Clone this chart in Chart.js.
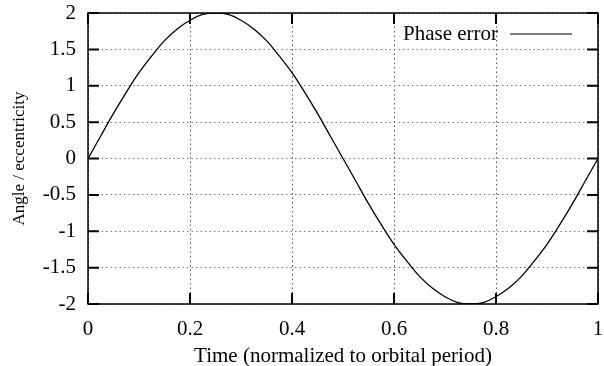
<!DOCTYPE html>
<html>
<head>
<meta charset="utf-8">
<script src="https://cdn.jsdelivr.net/npm/chart.js@4.4.0/dist/chart.umd.min.js"></script>
<style>
  html, body { margin: 0; padding: 0; background: #fff; }
  #wrap { width: 604px; height: 366px; }
</style>
</head>
<body>
<div id="wrap"><canvas id="phaseChart" width="604" height="366"></canvas></div>
<script>
// Data

const timeValues = [0, 0.025, 0.05, 0.075, 0.1, 0.125, 0.15, 0.175, 0.2, 0.225, 0.25,
    0.275, 0.3, 0.325, 0.35, 0.375, 0.4, 0.425, 0.45, 0.475, 0.5,
    0.525, 0.55, 0.575, 0.6, 0.625, 0.65, 0.675, 0.7, 0.725, 0.75,
    0.775, 0.8, 0.825, 0.85, 0.875, 0.9, 0.925, 0.95, 0.975, 1];
const phaseError = [0, 0.31, 0.62, 0.91, 1.18, 1.41, 1.62, 1.78, 1.90, 1.98, 2,
    1.98, 1.90, 1.78, 1.62, 1.41, 1.18, 0.91, 0.62, 0.31, 0,
    -0.31, -0.62, -0.91, -1.18, -1.41, -1.62, -1.78, -1.90, -1.98, -2,
    -1.98, -1.90, -1.78, -1.62, -1.41, -1.18, -0.91, -0.62, -0.31, 0];
const seriesName = 'Phase error';
const xTitle = 'Time (normalized to orbital period)';
const yTitle = 'Angle / eccentricity';

const serif = "'Liberation Serif', 'DejaVu Serif', serif";

// plain gnuplot-like numbers: 2, 1.5, 0.2, 1
function plainLabel(value) {
    return String(Math.round(value * 100) / 100);
}

// Frame with inward tick marks, plus the gnuplot-style legend

const framePlugin = {
    id: 'frame',
    afterDraw(chart) {
        const ctx = chart.ctx;
        const area = chart.chartArea;
        const xs = chart.scales.x;
        const ys = chart.scales.y;
        const tick = 11;
        ctx.save();
        ctx.strokeStyle = '#000';
        ctx.lineWidth = 1.5;
        ctx.strokeRect(area.left, area.top, area.right - area.left, area.bottom - area.top);
        ctx.lineWidth = 2;
        ctx.beginPath();
        xs.ticks.forEach(t => {
            const x = xs.getPixelForValue(t.value);
            ctx.moveTo(x, area.bottom);
            ctx.lineTo(x, area.bottom - tick);
            ctx.moveTo(x, area.top);
            ctx.lineTo(x, area.top + tick);
        });
        ys.ticks.forEach(t => {
            const y = ys.getPixelForValue(t.value);
            ctx.moveTo(area.left, y);
            ctx.lineTo(area.left + tick, y);
            ctx.moveTo(area.right, y);
            ctx.lineTo(area.right - tick, y);
        });
        ctx.stroke();

        // legend: text first, then line sample
        const ly = area.top + 21;
        ctx.fillStyle = '#000';
        ctx.font = '21px ' + serif;
        ctx.textAlign = 'right';
        ctx.textBaseline = 'middle';
        ctx.fillText(seriesName, 498, ly);
        ctx.lineWidth = 1.2;
        ctx.beginPath();
        ctx.moveTo(510, ly);
        ctx.lineTo(572, ly);
        ctx.stroke();
        ctx.restore();
    }
};

const phaseCanvas = document.getElementById('phaseChart');

let phaseData = {
    datasets: [{
        label: seriesName,
        data: timeValues.map((t, i) => ({ x: t, y: phaseError[i] })),
        borderColor: '#000',
        borderWidth: 1.3,
        pointRadius: 0,
        tension: 0.4,
        fill: false
    }]
};

let phaseOptions = {
    responsive: false,
    animation: false,
    layout: {
        padding: { top: 13, right: 6, left: 0, bottom: 0 }
    },
    scales: {
        x: {
            type: 'linear',
            min: 0,
            max: 1,
            ticks: {
                stepSize: 0.2,
                color: '#000',
                padding: 13,
                maxRotation: 0,
                callback: plainLabel,
                font: { family: serif, size: 21 }
            },
            grid: {
                color: '#555',
                lineWidth: 1,
                drawTicks: false
            },
            border: { display: false, dash: [1.5, 3] },
            title: {
                display: true,
                text: xTitle,
                color: '#000',
                padding: { top: 0, bottom: 0 },
                font: { family: serif, size: 21, lineHeight: 0.9 }
            },
            afterFit(scale) {
                scale.height = 62;
                scale.paddingLeft = 0;
                scale.paddingRight = 0;
            }
        },
        y: {
            min: -2,
            max: 2,
            ticks: {
                stepSize: 0.5,
                color: '#000',
                padding: 12,
                callback: plainLabel,
                font: { family: serif, size: 21 }
            },
            grid: {
                color: '#777',
                lineWidth: 1,
                drawTicks: false
            },
            border: { display: false, dash: [1.5, 3] },
            title: {
                display: true,
                text: yTitle,
                color: '#000',
                padding: { top: 9, bottom: 0 },
                font: { family: serif, size: 17 }
            },
            afterFit(scale) {
                scale.width = 88;
                scale.paddingTop = 0;
                scale.paddingBottom = 0;
            }
        }
    },
    plugins: {
        legend: { display: false },
        tooltip: { enabled: false }
    }
};

let phaseChart = new Chart(phaseCanvas, {
    type: 'line',
    data: phaseData,
    options: phaseOptions,
    plugins: [framePlugin]
});
</script>
</body>
</html>
